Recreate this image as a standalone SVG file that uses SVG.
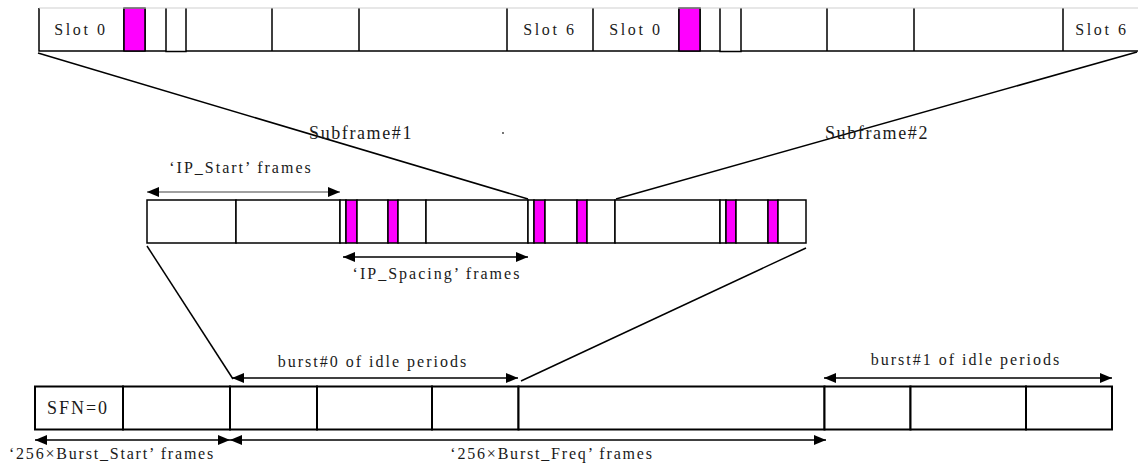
<svg xmlns="http://www.w3.org/2000/svg" width="1138" height="467" viewBox="0 0 1138 467">
<style>
.cell{fill:#fff;stroke:#000;stroke-width:1.5}
.open{fill:#fff;stroke:#000;stroke-width:1.5}
.mag{fill:#ff00ff;stroke:#000;stroke-width:1.5}
.bot{fill:#fff;stroke:#000;stroke-width:2}
.ln{stroke:#000;stroke-width:1.5;fill:none}
.arr{stroke:#000;stroke-width:1.5;fill:none;marker-start:url(#ah);marker-end:url(#ah)}
.arrg{stroke:#808080;stroke-width:1.5;fill:none;marker-start:url(#ah);marker-end:url(#ah)}
text{font-family:"Liberation Serif","Times New Roman",serif;font-size:16px;fill:#1a1a1a;letter-spacing:2px}
.big{font-size:18px;letter-spacing:1.6px}
.slot{letter-spacing:2.6px}
.sfn{font-size:18px;letter-spacing:2px}
.lbl{letter-spacing:1.8px}
</style>
<defs>
<marker id="ah" viewBox="0 0 12 10" refX="12" refY="5" markerWidth="12" markerHeight="10" markerUnits="userSpaceOnUse" orient="auto-start-reverse">
<path d="M0,0 L12,5 L0,10 z" fill="#000"/>
</marker>
</defs>
<rect width="1138" height="467" fill="#fff"/>

<g id="subframe-bar">
<path class="open" d="M39,8 V51 H124 V8 M124,51 H145 M145,8 V51 H166 V8 M166,8 V51.5 H186 V8 M186,51 H272 V8 M272,51 H359 V8 M359,51 H507 V8 M507,51 H593 V8 M593,51 H679 V8 M679,51 H700 M700,8 V51 H720 V8 M720,8 V51.5 H741 V8 M741,51 H827 V8 M827,51 H914 V8 M914,51 H1063 V8 M1063,51 H1140"/>
<rect class="mag" x="124" y="8" width="21" height="43"/>
<rect class="mag" x="679" y="8" width="21" height="43"/>
<line x1="39" y1="8" x2="1138" y2="8" stroke="#cfcfcf" stroke-width="1"/>
<text class="slot" x="81" y="35" text-anchor="middle">Slot 0</text>
<text class="slot" x="550" y="35" text-anchor="middle">Slot 6</text>
<text class="slot" x="636" y="35" text-anchor="middle">Slot 0</text>
<text class="slot" x="1102" y="35" text-anchor="middle">Slot 6</text>
</g>

<g id="idle-periods-bar">
<rect class="cell" x="147" y="200" width="89" height="43"/>
<rect class="cell" x="236" y="200" width="104" height="43"/>
<rect class="cell" x="340" y="200" width="6" height="43"/>
<rect class="mag" x="346" y="200" width="11" height="43"/>
<rect class="cell" x="357" y="200" width="31" height="43"/>
<rect class="mag" x="388" y="200" width="10" height="43"/>
<rect class="cell" x="398" y="200" width="28" height="43"/>
<rect class="cell" x="426" y="200" width="102" height="43"/>
<rect class="cell" x="528" y="200" width="6" height="43"/>
<rect class="mag" x="534" y="200" width="11" height="43"/>
<rect class="cell" x="545" y="200" width="32" height="43"/>
<rect class="mag" x="577" y="200" width="10" height="43"/>
<rect class="cell" x="587" y="200" width="28" height="43"/>
<rect class="cell" x="615" y="200" width="105" height="43"/>
<rect class="cell" x="720" y="200" width="6" height="43"/>
<rect class="mag" x="726" y="200" width="10" height="43"/>
<rect class="cell" x="736" y="200" width="32" height="43"/>
<rect class="mag" x="768" y="200" width="10" height="43"/>
<rect class="cell" x="778" y="200" width="28" height="43"/>
</g>

<g id="frame-bar">
<rect class="bot" x="35" y="386.5" width="88" height="43"/>
<rect class="bot" x="123" y="386.5" width="107" height="43"/>
<rect class="bot" x="230" y="386.5" width="87" height="43"/>
<rect class="bot" x="317" y="386.5" width="115" height="43"/>
<rect class="bot" x="432" y="386.5" width="86.5" height="43"/>
<rect class="bot" x="518.5" y="386.5" width="306" height="43"/>
<rect class="bot" x="824.5" y="386.5" width="86" height="43"/>
<rect class="bot" x="910.5" y="386.5" width="115.5" height="43"/>
<rect class="bot" x="1026" y="386.5" width="86" height="43"/>
<text class="sfn" x="78" y="414" text-anchor="middle">SFN=0</text>
</g>

<g id="connectors">
<line class="ln" x1="38" y1="53" x2="528" y2="199"/>
<line class="ln" x1="1137" y1="52" x2="616" y2="199"/>
<line class="ln" x1="147" y1="246" x2="233" y2="379"/>
<line class="ln" x1="806" y1="248" x2="521" y2="381"/>
<line class="arrg" x1="147" y1="192" x2="340" y2="192"/>
<line class="arr" x1="343" y1="257" x2="528" y2="257"/>
<line class="arr" x1="232" y1="378" x2="518" y2="378"/>
<line class="arr" x1="824" y1="378" x2="1112" y2="378"/>
<line class="arr" x1="35" y1="440" x2="230" y2="440"/>
<line class="arr" x1="230" y1="440" x2="826" y2="440"/>
</g>

<g id="labels">
<text class="big" x="413" y="139" text-anchor="end">Subframe#1</text>
<text class="big" x="825" y="139">Subframe#2</text>
<circle cx="503" cy="133" r="0.9" fill="#333"/>
<text x="241" y="173" text-anchor="middle">‘IP_Start’ frames</text>
<text x="437" y="279" text-anchor="middle">‘IP_Spacing’ frames</text>
<text x="373" y="367" text-anchor="middle">burst#0 of idle periods</text>
<text x="966" y="365" text-anchor="middle">burst#1 of idle periods</text>
<text class="lbl" x="112" y="459" text-anchor="middle">‘256×Burst_Start’ frames</text>
<text class="lbl" x="552" y="459" text-anchor="middle">‘256×Burst_Freq’ frames</text>
</g>
</svg>
